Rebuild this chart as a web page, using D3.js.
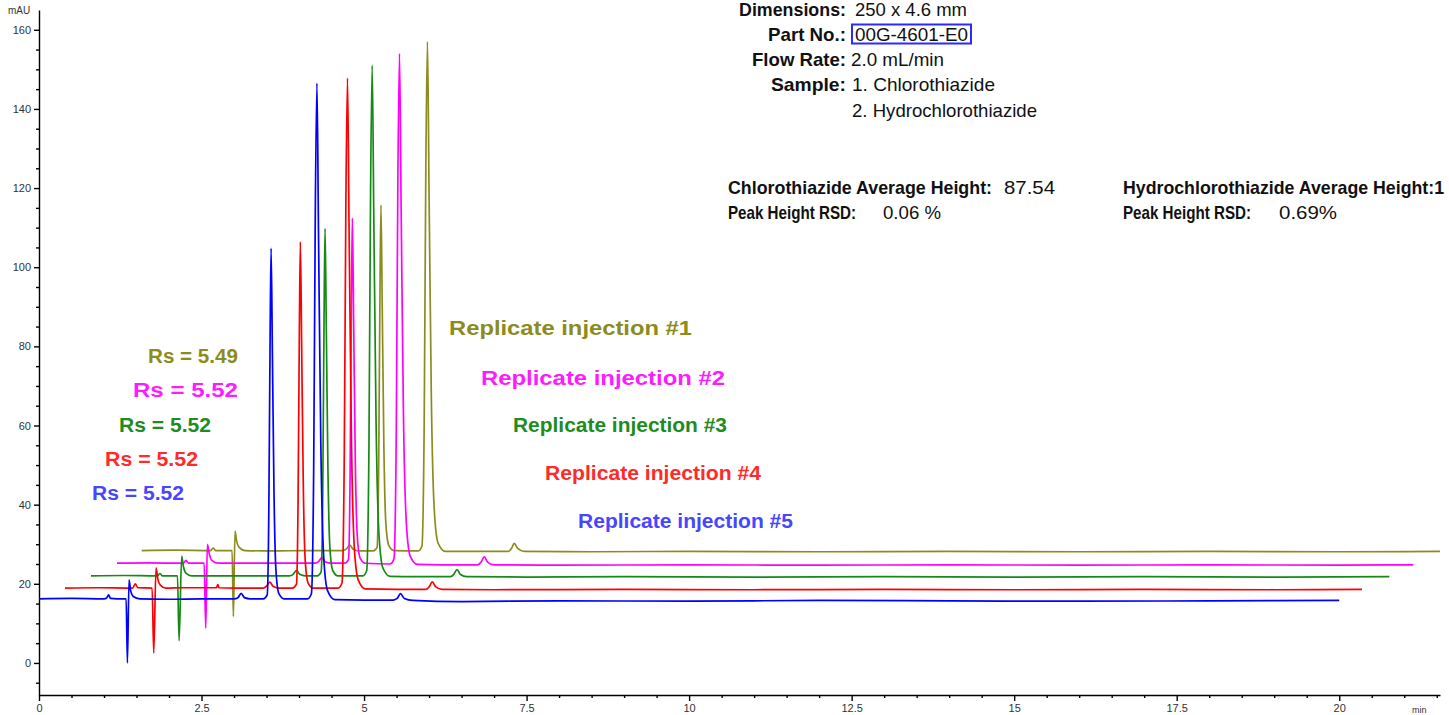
<!DOCTYPE html>
<html>
<head>
<meta charset="utf-8">
<script src="https://cdn.jsdelivr.net/npm/d3@7"></script>
<style>
  body { margin: 0; background: #fff; }
  svg { display: block; font-family: "Liberation Sans", Arial, sans-serif; }
  .axis path, .axis line { stroke: #000; stroke-width: 1.4; }
  .axis .tick text { font-family: "Liberation Sans Narrow", "Liberation Sans", Arial, sans-serif; font-size: 11px; fill: #333; }
</style>
</head>
<body>
<svg id="chart" width="1449" height="715"></svg>
<script>
// [time (min), signal (mAU)]
const blueTrace = [[0, 16.2], [0.5, 16.3], [1.0, 16.2], [1.04, 16.4], [1.07, 17.2], [1.1, 16.3], [1.2, 16.2], [1.34, 16.2], [1.36, 0.0], [1.385, 21.0], [1.41, 18.2], [1.45, 16.8], [1.55, 16.2], [2.0, 16.1], [2.5, 16.2], [3.0, 16.2], [3.06, 16.5], [3.11, 17.6], [3.16, 16.5], [3.25, 16.2], [3.45, 16.2], [3.51, 17.2], [3.535, 38.3], [3.555, 82.6], [3.57, 104.8], [3.59, 78.2], [3.615, 42.8], [3.645, 23.3], [3.69, 17.5], [3.77, 16.2], [4.0, 16.2], [4.13, 16.2], [4.19, 17.5], [4.225, 48.8], [4.25, 113.9], [4.275, 146.5], [4.3, 107.4], [4.335, 55.3], [4.38, 26.6], [4.44, 18.2], [4.55, 16.0], [5.0, 15.9], [5.45, 15.9], [5.51, 16.3], [5.56, 17.5], [5.62, 16.3], [5.75, 15.8], [6.5, 15.5], [8, 15.7], [10, 15.6], [12, 15.8], [14, 15.7], [16, 15.6], [18, 15.7], [20.0, 15.8]];
const redTrace = [[0.4, 18.9], [0.9, 19.0], [1.44, 18.9], [1.48, 20.0], [1.52, 19.0], [1.74, 18.9], [1.765, 2.5], [1.8, 24.0], [1.83, 21.0], [1.87, 19.6], [1.95, 18.9], [2.2, 19.0], [2.73, 19.0], [2.75, 19.8], [2.77, 19.0], [3.0, 18.9], [3.45, 18.9], [3.5, 19.4], [3.55, 20.4], [3.6, 19.4], [3.7, 18.9], [3.9, 18.9], [3.96, 19.9], [3.985, 40.8], [4.005, 84.5], [4.02, 106.4], [4.04, 80.2], [4.065, 45.2], [4.095, 25.9], [4.14, 20.2], [4.22, 18.9], [4.6, 18.9], [4.66, 20.2], [4.695, 51.1], [4.72, 115.6], [4.745, 147.8], [4.77, 109.1], [4.805, 57.6], [4.85, 29.2], [4.91, 21.0], [5.02, 18.7], [5.5, 18.6], [5.95, 18.6], [6.0, 19.2], [6.05, 20.5], [6.1, 19.3], [6.2, 18.6], [7, 18.5], [9, 18.6], [11, 18.5], [13, 18.6], [15, 18.5], [17, 18.6], [19, 18.5], [20.35, 18.6]];
const greenTrace = [[0.8, 22.0], [1.3, 22.1], [1.82, 22.0], [1.86, 22.6], [1.9, 22.0], [2.13, 22.0], [2.155, 5.6], [2.195, 27.0], [2.22, 24.5], [2.26, 22.7], [2.35, 22.0], [2.8, 22.0], [3.3, 22.0], [3.85, 22.0], [3.91, 22.4], [3.96, 23.4], [4.01, 22.4], [4.1, 22.0], [4.28, 22.0], [4.34, 23.0], [4.365, 43.9], [4.385, 87.9], [4.4, 109.8], [4.42, 83.5], [4.445, 48.3], [4.475, 29.0], [4.52, 23.3], [4.6, 22.0], [4.98, 22.0], [5.04, 23.3], [5.075, 54.3], [5.1, 118.8], [5.125, 151.0], [5.15, 112.3], [5.185, 60.7], [5.23, 32.3], [5.29, 24.0], [5.4, 21.9], [5.8, 21.8], [6.33, 21.8], [6.38, 22.4], [6.43, 23.6], [6.48, 22.4], [6.58, 21.8], [7.5, 21.7], [9, 21.8], [11, 21.7], [13, 21.8], [15, 21.7], [17, 21.8], [19, 21.7], [20.77, 21.8]];
const magentaTrace = [[1.2, 25.2], [1.7, 25.3], [2.22, 25.2], [2.26, 25.9], [2.3, 25.2], [2.54, 25.2], [2.565, 8.8], [2.59, 30.0], [2.62, 27.5], [2.66, 25.9], [2.75, 25.2], [3.2, 25.2], [3.7, 25.2], [4.25, 25.2], [4.3, 25.6], [4.35, 26.6], [4.4, 25.6], [4.5, 25.2], [4.7, 25.2], [4.76, 26.1], [4.785, 47.0], [4.805, 90.6], [4.82, 112.4], [4.84, 86.2], [4.865, 51.4], [4.895, 32.2], [4.94, 26.5], [5.02, 25.2], [5.4, 25.0], [5.46, 26.3], [5.495, 57.4], [5.52, 121.8], [5.545, 154.0], [5.57, 115.4], [5.605, 63.8], [5.65, 35.5], [5.71, 27.0], [5.82, 24.9], [6.2, 24.8], [6.75, 24.8], [6.8, 25.5], [6.85, 26.8], [6.9, 25.5], [7.0, 24.8], [8, 24.7], [10, 24.8], [12, 24.7], [14, 24.8], [16, 24.7], [18, 24.8], [20, 24.7], [21.14, 24.8]];
const oliveTrace = [[1.58, 28.4], [2.1, 28.5], [2.64, 28.4], [2.68, 29.0], [2.72, 28.4], [2.97, 28.4], [2.99, 11.7], [3.015, 33.3], [3.04, 30.8], [3.08, 29.2], [3.17, 28.4], [3.6, 28.3], [4.1, 28.4], [4.68, 28.4], [4.73, 28.8], [4.78, 29.8], [4.83, 28.8], [4.92, 28.3], [5.14, 28.3], [5.2, 29.2], [5.225, 50.2], [5.245, 93.9], [5.26, 115.7], [5.28, 89.5], [5.305, 54.6], [5.335, 35.4], [5.38, 29.7], [5.46, 28.4], [5.83, 28.3], [5.89, 29.5], [5.925, 60.6], [5.95, 124.8], [5.975, 157.0], [6.0, 118.4], [6.035, 66.9], [6.08, 38.7], [6.14, 30.2], [6.25, 28.2], [6.7, 28.2], [7.22, 28.2], [7.27, 29.0], [7.31, 30.2], [7.36, 29.0], [7.46, 28.2], [8.5, 28.1], [10, 28.2], [12, 28.1], [14, 28.2], [16, 28.1], [18, 28.2], [20, 28.1], [21.55, 28.2]];

const injectionLabels = ["Replicate injection #1", "Replicate injection #2", "Replicate injection #3", "Replicate injection #4", "Replicate injection #5"];
const rsLabels = ["Rs = 5.49", "Rs = 5.52", "Rs = 5.52", "Rs = 5.52", "Rs = 5.52"];

const xMajorTicks = [0, 2.5, 5, 7.5, 10, 12.5, 15, 17.5, 20];
const yMajorTicks = [0, 20, 40, 60, 80, 100, 120, 140, 160];

const headerLabels = ["Dimensions:", "Part No.:", "Flow Rate:", "Sample:", ""];
const headerValues = ["250 x 4.6 mm", "00G-4601-E0", "2.0 mL/min", "1. Chlorothiazide", "2. Hydrochlorothiazide"];

// drawing order: olive at the back, blue in front
let traces = [oliveTrace, magentaTrace, greenTrace, redTrace, blueTrace];
let traceColors = ["#8c8c1e", "#ff00ff", "#168a16", "#ff0000", "#0000ff"];
let textColors = ["#8c8c1e", "#ff1aff", "#1e8c1e", "#ff2a2a", "#4646ff"];

let svg = d3.select("#chart");

let x = d3.scaleLinear().domain([0, 21.55]).range([39, 1440]);
let y = d3.scaleLinear().domain([-8.1, 165]).range([695, 10]);

// Axes
let yAxis = d3.axisLeft(y)
  .tickValues(d3.range(-5, 161, 5))
  .tickFormat(d => (yMajorTicks.includes(d) ? d : ""))
  .tickSize(5)
  .tickSizeOuter(0);
let gy = svg.append("g").attr("class", "axis").attr("transform", "translate(39,0)").call(yAxis);
gy.selectAll(".tick line").attr("x2", d => (yMajorTicks.includes(d) ? -5 : -3));

let xAxis = d3.axisBottom(x)
  .tickValues(d3.range(0, 44).map(i => i * 0.5))
  .tickFormat(d => (xMajorTicks.includes(d) ? d : ""))
  .tickSize(6)
  .tickSizeOuter(0);
let gx = svg.append("g").attr("class", "axis").attr("transform", "translate(0,695)").call(xAxis);
gx.selectAll(".tick line").attr("y2", d => (xMajorTicks.includes(d) ? 6 : 3));

svg.append("text").attr("x", 8).attr("y", 14).attr("font-size", 10).attr("fill", "#333").text("mAU");
svg.append("text").attr("x", 1412).attr("y", 713).attr("font-size", 9).attr("fill", "#333").text("min");

// Traces
let line = d3.line()
  .x(d => x(d[0]))
  .y(d => y(d[1]))
  .curve(d3.curveMonotoneX);

svg.append("g")
  .selectAll("path")
  .data(traces)
  .enter()
  .append("path")
  .attr("d", line)
  .attr("fill", "none")
  .attr("stroke", (d, i) => traceColors[i])
  .attr("stroke-width", 1.7)
  .attr("stroke-linejoin", "round");

// Rs labels and injection labels (index 0 = injection #1)
let rsPos = [[148, 363, 90], [133, 397, 105], [119, 432, 92], [105, 466, 93], [92, 500, 92]];
rsLabels.forEach(function (d, i) {
  svg.append("text")
    .attr("x", rsPos[i][0]).attr("y", rsPos[i][1])
    .attr("textLength", rsPos[i][2]).attr("lengthAdjust", "spacingAndGlyphs")
    .attr("font-size", 20).attr("font-weight", "bold")
    .attr("fill", textColors[i])
    .text(d);
});
let injPos = [[449, 335, 243], [481, 385, 244], [513, 432, 214], [545, 480, 216], [578, 528, 215]];
injectionLabels.forEach(function (d, i) {
  svg.append("text")
    .attr("x", injPos[i][0]).attr("y", injPos[i][1])
    .attr("textLength", injPos[i][2]).attr("lengthAdjust", "spacingAndGlyphs")
    .attr("font-size", 20).attr("font-weight", "bold")
    .attr("fill", textColors[i])
    .text(d);
});

// Header block
let hdrY = [16, 41, 66, 91, 117];
let hdrLabelX = [739, 768, 752, 771, 0];
let hdrValueX = [[855, 112], [855, 113], [851, 93], [852, 143], [852, 185]];
headerLabels.forEach(function (d, i) {
  if (d) {
    svg.append("text")
      .attr("x", hdrLabelX[i]).attr("y", hdrY[i])
      .attr("textLength", 846 - hdrLabelX[i]).attr("lengthAdjust", "spacingAndGlyphs")
      .attr("font-size", 19).attr("font-weight", "bold").attr("fill", "#111")
      .text(d);
  }
  svg.append("text")
    .attr("x", hdrValueX[i][0]).attr("y", hdrY[i])
    .attr("textLength", hdrValueX[i][1]).attr("lengthAdjust", "spacingAndGlyphs")
    .attr("font-size", 19).attr("fill", "#111")
    .text(headerValues[i]);
});
svg.append("rect")
  .attr("x", 852).attr("y", 24.5).attr("width", 119).attr("height", 19)
  .attr("fill", "none").attr("stroke", "#2a2aff").attr("stroke-width", 2);

// Peak height summary
let stats = [
  [728, 194, 264, "Chlorothiazide Average Height:", true],
  [1004, 194, 51, "87.54", false],
  [728, 219, 128, "Peak Height RSD:", true],
  [883, 219, 58, "0.06 %", false],
  [1123, 194, 321, "Hydrochlorothiazide Average Height:1", true],
  [1123, 219, 128, "Peak Height RSD:", true],
  [1279, 219, 58, "0.69%", false]
];
stats.forEach(function (s) {
  svg.append("text")
    .attr("x", s[0]).attr("y", s[1])
    .attr("textLength", s[2]).attr("lengthAdjust", "spacingAndGlyphs")
    .attr("font-size", 19).attr("font-weight", s[4] ? "bold" : "normal").attr("fill", "#111")
    .text(s[3]);
});
</script>
</body>
</html>
